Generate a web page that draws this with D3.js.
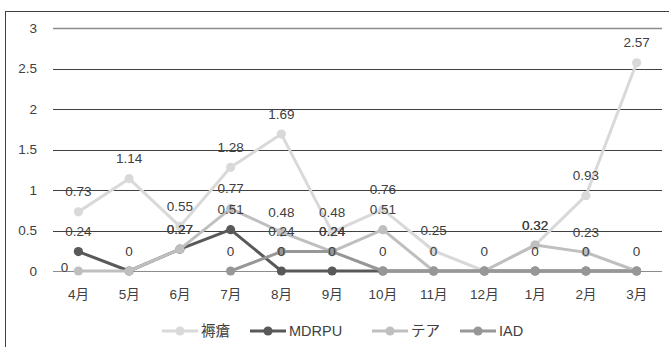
<!DOCTYPE html>
<html>
<head>
<meta charset="utf-8">
<script src="https://cdn.jsdelivr.net/npm/d3@7"></script>
<style>
  body { margin: 0; background: #fff; }
  svg { display: block; }
  text { font-family: "Liberation Sans", "Noto Sans CJK JP", sans-serif; fill: #404040; }
</style>
</head>
<body>
<svg id="chart" width="669" height="347"></svg>
<script>
// Monthly counts per category (fiscal year, April to March)
const months = ["4月", "5月", "6月", "7月", "8月", "9月", "10月", "11月", "12月", "1月", "2月", "3月"];
const seriesNames = ["褥瘡", "MDRPU", "テア", "IAD"];
const pressureUlcer = [0.73, 1.14, 0.55, 1.28, 1.69, 0.48, 0.76, 0.25, 0, 0.32, 0.93, 2.57];
const mdrpu = [0.24, 0, 0.27, 0.51, 0, 0, 0, 0, 0, 0, 0, 0];
const skinTear = [0, 0, 0.27, 0.77, 0.48, 0.24, 0.51, 0, 0, 0.32, 0.23, 0];
const iad = [null, null, null, 0, 0.24, 0.24, 0, 0, 0, 0, 0, 0];
const yTicks = [0, 0.5, 1, 1.5, 2, 2.5, 3];

const seriesValues = [pressureUlcer, mdrpu, skinTear, iad];
const seriesColors = ["#d9d9d9", "#595959", "#bfbfbf", "#979797"];
const fontStack = "\"Liberation Sans\", \"Noto Sans CJK JP\", sans-serif";

const svg = d3.select("#chart");

// outer frame
svg.append("rect")
  .attr("x", 5.5).attr("y", 11.5)
  .attr("width", 720).attr("height", 400)
  .attr("fill", "none").attr("stroke", "#404040").attr("stroke-width", 1);

const x = d3.scaleBand().domain(months).range([53, 662]);
const cx = m => x(m) + x.bandwidth() / 2;
const y = d3.scaleLinear().domain([0, 3]).range([271, 28]);

// horizontal gridlines
svg.append("g").selectAll("line")
  .data(yTicks)
  .join("line")
  .attr("x1", 53).attr("x2", 662)
  .attr("y1", d => Math.round(y(d)) + 0.5)
  .attr("y2", d => Math.round(y(d)) + 0.5)
  .attr("stroke", d => (d === 0 || d === 3) ? "#8c8c8c" : "#404040")
  .attr("stroke-width", d => d === 3 ? 1.5 : 1);

// y axis labels
const yAxis = svg.append("g")
  .attr("transform", "translate(37,0)")
  .call(d3.axisLeft(y).tickValues(yTicks).tickSize(0).tickPadding(0).tickFormat(d3.format("")));
yAxis.select(".domain").remove();
yAxis.selectAll("text")
  .attr("font-size", 13.5)
  .style("font-family", fontStack)
  .attr("fill", "#404040");

// month labels
const xAxis = svg.append("g")
  .attr("transform", "translate(0,289)")
  .call(d3.axisBottom(x).tickSize(0).tickPadding(0));
xAxis.select(".domain").remove();
xAxis.selectAll("text")
  .attr("font-size", 13.5)
  .style("font-family", fontStack)
  .attr("fill", "#404040");

// series lines and markers
const line = d3.line()
  .defined(d => d.v !== null)
  .x(d => cx(d.m))
  .y(d => y(d.v));

seriesValues.forEach((vals, si) => {
  const pts = months.map((m, i) => ({ m, v: vals[i] }));
  const g = svg.append("g");
  g.append("path")
    .datum(pts)
    .attr("d", line)
    .attr("fill", "none")
    .attr("stroke", seriesColors[si])
    .attr("stroke-width", 3)
    .attr("stroke-linejoin", "round");
  g.selectAll("circle")
    .data(pts.filter(d => d.v !== null))
    .join("circle")
    .attr("cx", d => cx(d.m))
    .attr("cy", d => y(d.v))
    .attr("r", 4.6)
    .attr("fill", seriesColors[si]);
});

// value labels above each point; a zero label is written once per month
const zeroShown = new Set();
seriesValues.forEach((vals, si) => {
  const isLeft = d => si === 2 && d.i === 0;
  const pts = months.map((m, i) => ({ m, v: vals[i], i }))
    .filter(d => d.v !== null)
    .filter(d => {
      if (d.v !== 0 || isLeft(d)) return true;
      if (zeroShown.has(d.i)) return false;
      zeroShown.add(d.i);
      return true;
    });
  svg.append("g").selectAll("text")
    .data(pts)
    .join("text")
    .attr("x", d => isLeft(d) ? cx(d.m) - 10 : cx(d.m))
    .attr("y", d => isLeft(d) ? y(d.v) - 4 : y(d.v) - 20)
    .attr("text-anchor", d => isLeft(d) ? "end" : "middle")
    .attr("dominant-baseline", "central")
    .attr("font-size", 13.5)
    .text(d => d.v);
});

// legend
const legendX = [162, 250, 372, 460];
const legend = svg.append("g");
seriesNames.forEach((name, si) => {
  const g = legend.append("g").attr("transform", `translate(${legendX[si]},331)`);
  g.append("line").attr("x1", 0).attr("x2", 36).attr("y1", 0).attr("y2", 0)
    .attr("stroke", seriesColors[si]).attr("stroke-width", 3);
  g.append("circle").attr("cx", 18).attr("cy", 0).attr("r", 4.6).attr("fill", seriesColors[si]);
  g.append("text").attr("x", 39).attr("y", 0)
    .attr("dominant-baseline", "central")
    .attr("font-size", 14.5)
    .text(name);
});
</script>
</body>
</html>
